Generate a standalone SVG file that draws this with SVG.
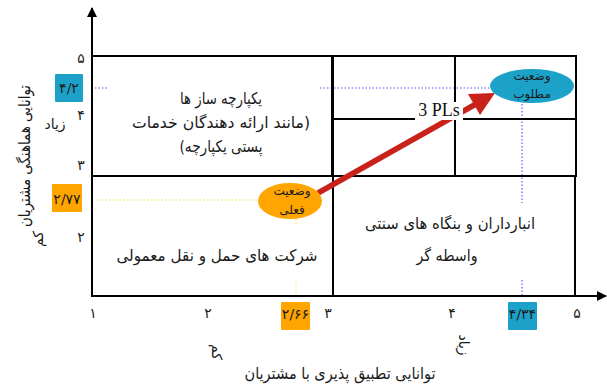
<svg xmlns="http://www.w3.org/2000/svg" width="607" height="385" viewBox="0 0 607 385">
<style>
.ln{stroke:#000;stroke-width:2;fill:none}
.fa{font-family:"DejaVu Sans","Noto Sans",sans-serif;fill:#1a1a1a;text-anchor:middle;direction:rtl}
.num{font-size:14px}
.box{font-size:16px}
.ell{font-size:12px}
.dotb{stroke:#5a5aff;stroke-width:1.2;stroke-dasharray:1.5 2;fill:none}
.doty{stroke:#f2e04a;stroke-width:1.2;stroke-dasharray:1.5 2;fill:none}
</style>
<defs>
<marker id="ah" viewBox="0 0 10 10" refX="9" refY="5" markerWidth="10" markerHeight="12" markerUnits="userSpaceOnUse" orient="auto">
<path d="M0,0 L10,5 L0,10 z" fill="#000"/>
</marker>
</defs>
<rect width="607" height="385" fill="#fff"/>

<g id="axes">
<line class="ln" x1="92" y1="297" x2="92" y2="8" marker-end="url(#ah)"/>
<line class="ln" x1="91" y1="296" x2="606" y2="296" marker-end="url(#ah)"/>
</g>

<g id="guides">
<line class="dotb" x1="95" y1="88" x2="108" y2="88"/>
<line class="dotb" x1="320" y1="88" x2="490" y2="88"/>
<line class="dotb" x1="522" y1="104" x2="522" y2="203"/>
<line class="dotb" x1="522" y1="280" x2="522" y2="295"/>
<line class="doty" x1="95" y1="200" x2="257" y2="200"/>
<line class="doty" x1="296" y1="219" x2="296" y2="226"/>
<line class="doty" x1="296" y1="282" x2="296" y2="295"/>
</g>

<g id="q-top-left">
<rect class="ln" x="92" y="56" width="240" height="120"/>
<text class="fa box" x="221" y="104" textLength="82" lengthAdjust="spacingAndGlyphs">یکپارچه ساز ها</text>
<text class="fa box" x="221" y="128" textLength="178" lengthAdjust="spacingAndGlyphs">(مانند ارائه دهندگان خدمات</text>
<text class="fa box" x="221" y="152" textLength="83" lengthAdjust="spacingAndGlyphs">پستی یکپارچه)</text>
</g>

<g id="q-top-right">
<rect class="ln" x="333" y="56" width="243" height="120"/>
<line class="ln" x1="455" y1="56" x2="455" y2="176"/>
<line class="ln" x1="333" y1="119" x2="576" y2="119"/>
</g>

<g id="q-bottom-left">
<rect class="ln" x="92" y="176" width="241" height="120"/>
<text class="fa box" x="217" y="261" textLength="201" lengthAdjust="spacingAndGlyphs">شرکت های حمل و نقل معمولی</text>
</g>

<g id="q-bottom-right">
<rect class="ln" x="333" y="176" width="242" height="120"/>
<text class="fa box" x="450" y="229" textLength="170" lengthAdjust="spacingAndGlyphs">انبارداران و بنگاه های سنتی</text>
<text class="fa box" x="447" y="261" textLength="61" lengthAdjust="spacingAndGlyphs">واسطه گر</text>
</g>

<g id="connectors">
<line x1="318" y1="193" x2="476" y2="104" stroke="#c8221a" stroke-width="5.5"/>
<polygon points="495,93 480,115 468,94" fill="#c8221a"/>
</g>

<g id="label-3pls">
<rect x="415" y="102" width="48" height="18" fill="#fff"/>
<text x="439" y="116" font-family="Liberation Serif,serif" font-size="18" text-anchor="middle" fill="#111">3 PLs</text>
</g>

<g id="current">
<ellipse cx="290" cy="201" rx="32" ry="18" fill="#ffa500"/>
<text class="fa ell" x="292" y="195">وضعیت</text>
<text class="fa ell" x="292" y="214">فعلی</text>
</g>

<g id="desired">
<ellipse cx="532" cy="86" rx="42" ry="17" fill="#1ca2c9"/>
<text class="fa ell" x="532" y="80">وضعیت</text>
<text class="fa ell" x="532" y="98">مطلوب</text>
</g>

<g id="y-ticks">
<text class="fa num" x="81" y="63">۵</text>
<text class="fa num" x="81" y="120">۴</text>
<text class="fa num" x="81" y="170">۳</text>
<text class="fa num" x="81" y="242">۲</text>
<rect x="55" y="74" width="28" height="28" fill="#1ca2c9" rx="1"/>
<text class="fa num" x="69" y="93">۴/۲</text>
<rect x="52" y="184" width="30" height="28" fill="#ffa500" rx="1"/>
<text class="fa num" x="67" y="204">۲/۷۷</text>
<text class="fa num" x="55" y="129">زیاد</text>
<text class="fa num" font-size="15" transform="translate(43,239) rotate(-90)">کم</text>
<text class="fa" font-size="16" transform="translate(30,156) rotate(-90)" textLength="142" lengthAdjust="spacingAndGlyphs">توانایی هماهنگی مشتریان</text>
</g>

<g id="x-ticks">
<text class="fa num" x="93" y="318">۱</text>
<text class="fa num" x="208" y="318">۲</text>
<text class="fa num" x="328" y="318">۳</text>
<text class="fa num" x="452" y="318">۴</text>
<text class="fa num" x="577" y="318">۵</text>
<rect x="281" y="302" width="29" height="28" fill="#ffa500" rx="1"/>
<text class="fa num" x="295.5" y="319">۲/۶۶</text>
<rect x="508" y="302" width="29" height="28" fill="#1ca2c9" rx="1"/>
<text class="fa num" x="522.5" y="319">۴/۳۴</text>
<text class="fa num" font-size="15" transform="translate(212,352) rotate(90)">کم</text>
<text class="fa num" transform="translate(459,345) rotate(90)">زیاد</text>
<text class="fa" font-size="16" x="340" y="379" textLength="191" lengthAdjust="spacingAndGlyphs">توانایی تطبیق پذیری با مشتریان</text>
</g>
</svg>
